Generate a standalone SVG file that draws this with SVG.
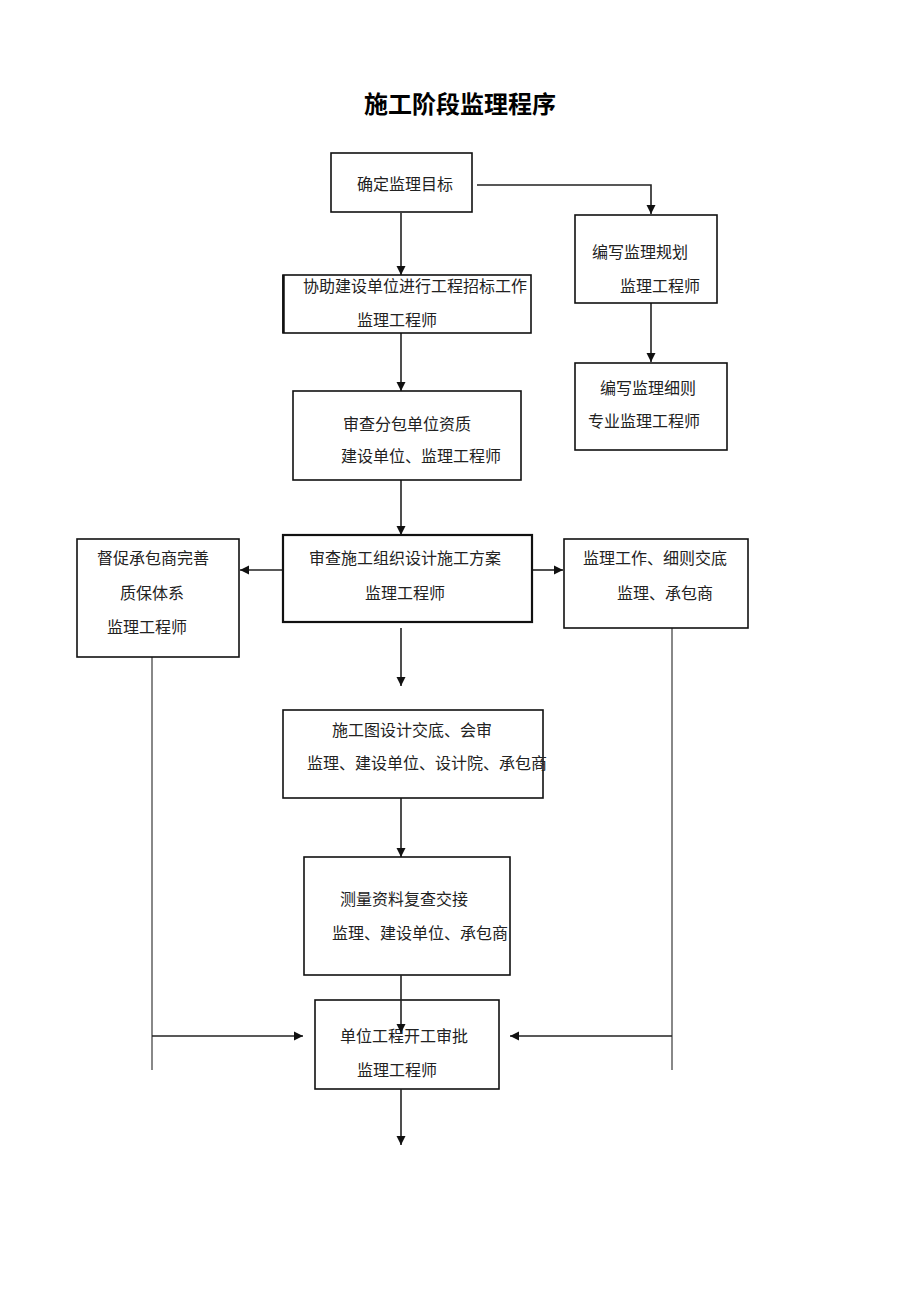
<svg xmlns="http://www.w3.org/2000/svg" width="920" height="1302" viewBox="0 0 920 1302">
<defs>
<marker id="ah" viewBox="0 0 10 10" refX="10" refY="5" markerWidth="9" markerHeight="10" markerUnits="userSpaceOnUse" orient="auto">
<path d="M0,0 L10,5 L0,10 z" fill="#111"/>
</marker>
</defs>
<style>
.box{fill:#fff;stroke:#111;stroke-width:1.6}
.t{font-family:"Liberation Serif","Noto Sans CJK SC",serif;font-size:16px;fill:#222}
.title{font-family:"Liberation Serif","Noto Sans CJK SC",serif;font-size:24px;font-weight:bold;fill:#000}
.c{fill:none;stroke:#222;stroke-width:1.6}
.g{fill:none;stroke:#888;stroke-width:2}
</style>
<rect width="920" height="1302" fill="#fff"/>
<text class="title" x="460" y="113" text-anchor="middle">施工阶段监理程序</text>

<g id="connectors">
<path class="c" d="M477,185 H651 V214" marker-end="url(#ah)"/>
<path class="c" d="M401,213 V275" marker-end="url(#ah)"/>
<path class="c" d="M651,303 V362" marker-end="url(#ah)"/>
<path class="c" d="M401,333 V391" marker-end="url(#ah)"/>
<path class="c" d="M401,480 V535" marker-end="url(#ah)"/>
<path class="c" d="M283,570 H240" marker-end="url(#ah)"/>
<path class="c" d="M532,570 H563" marker-end="url(#ah)"/>
<path class="c" d="M401,628 V686" marker-end="url(#ah)"/>
<path class="c" d="M401,798 V857" marker-end="url(#ah)"/>
<path class="g" d="M152,657 V1070"/>
<path class="g" d="M672,628 V1070"/>
<path class="c" d="M152,1036 H303" marker-end="url(#ah)"/>
<path class="c" d="M672,1036 H510" marker-end="url(#ah)"/>
</g>

<g id="n1"><rect class="box" x="331" y="153" width="141" height="59"/><text class="t" x="357" y="190">确定监理目标</text></g>
<g id="n2"><rect class="box" x="575" y="215" width="142" height="88"/><text class="t" x="592" y="258">编写监理规划</text><text class="t" x="620" y="292">监理工程师</text></g>
<g id="n3"><rect class="box" x="575" y="363" width="152" height="87"/><text class="t" x="600" y="394">编写监理细则</text><text class="t" x="588" y="427">专业监理工程师</text></g>
<g id="n4"><rect class="box" x="283" y="275" width="248" height="58"/><path d="M283.5,275 V333" stroke="#111" stroke-width="2.5"/><text class="t" x="303" y="292">协助建设单位进行工程招标工作</text><text class="t" x="357" y="326">监理工程师</text></g>
<g id="n5"><rect class="box" x="293" y="391" width="228" height="89"/><text class="t" x="343" y="430">审查分包单位资质</text><text class="t" x="341" y="462">建设单位、监理工程师</text></g>
<g id="n6"><rect class="box" x="283" y="535" width="249" height="87" style="stroke-width:2.2"/><text class="t" x="309" y="564">审查施工组织设计施工方案</text><text class="t" x="365" y="599">监理工程师</text></g>
<g id="n7"><rect class="box" x="77" y="539" width="162" height="118"/><text class="t" x="97" y="564">督促承包商完善</text><text class="t" x="120" y="599">质保体系</text><text class="t" x="107" y="633">监理工程师</text></g>
<g id="n8"><rect class="box" x="564" y="539" width="184" height="89"/><text class="t" x="583" y="564">监理工作、细则交底</text><text class="t" x="617" y="599">监理、承包商</text></g>
<g id="n9"><rect class="box" x="283" y="710" width="260" height="88"/><text class="t" x="332" y="736">施工图设计交底、会审</text><text class="t" x="307" y="769">监理、建设单位、设计院、承包商</text></g>
<g id="n10"><rect class="box" x="304" y="857" width="206" height="118"/><text class="t" x="340" y="905">测量资料复查交接</text><text class="t" x="332" y="939">监理、建设单位、承包商</text></g>
<g id="n11"><rect class="box" x="315" y="1000" width="184" height="89"/><text class="t" x="340" y="1042">单位工程开工审批</text><text class="t" x="357" y="1076">监理工程师</text></g>

<g id="connectors-over">
<path class="c" d="M401,975 V1033" marker-end="url(#ah)"/>
<path class="c" d="M401,1089 V1145" marker-end="url(#ah)"/>
</g>
</svg>
